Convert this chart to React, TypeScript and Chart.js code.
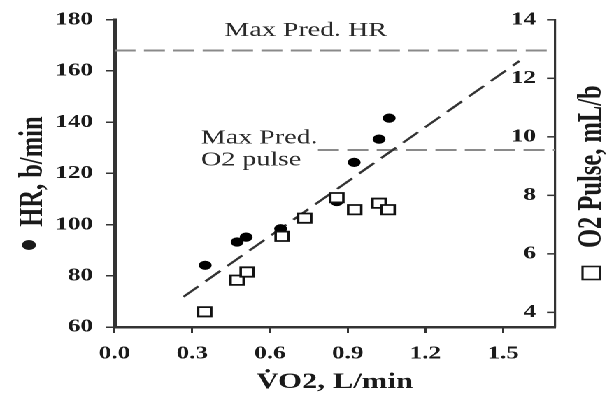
import React, { useEffect, useRef } from 'react';
import { Chart, registerables } from 'chart.js';

Chart.register(...registerables);

// ---- data ----
const VO2_HR = [0.35, 0.473, 0.508, 0.641, 0.858, 0.925, 1.021, 1.06];
const HR = [84.1, 93.2, 95.1, 98.4, 109, 124.3, 133.4, 141.6];
const VO2_PULSE = [0.348, 0.473, 0.512, 0.647, 0.734, 0.858, 0.927, 1.021, 1.056];
const O2_PULSE = [4.02, 5.1, 5.38, 6.6, 7.22, 7.92, 7.51, 7.73, 7.51];
const FIT_VO2 = [0.266, 1.563];
const FIT_HR = [71.8, 163.9];
const MAX_HR = 168;
const MAX_O2_PULSE = 9.55;
const MAX_O2_FROM = 0.785;
const X_TICKS = [0, 0.3, 0.6, 0.9, 1.2, 1.5];
const HR_TICKS = [60, 80, 100, 120, 140, 160, 180];
const PULSE_TICKS = [4, 6, 8, 10, 12, 14];
const X_TITLE = 'V\u0307O2, L/min';
const Y_TITLE = 'HR, b/min';
const Y2_TITLE = 'O2 Pulse, mL/b';
const NOTE_HR = 'Max Pred. HR';
const NOTE_O2 = ['Max Pred.', 'O2 pulse'];

// ---- layout (native, before horizontal stretch) ----
const W = 434;
const H = 393;
const SX = 607 / W;
const SERIF = "'Liberation Serif', 'Times New Roman', serif";

const annotPlugin = {
  id: 'annot',
  afterDraw(chart: any) {
    const ctx = chart.ctx as CanvasRenderingContext2D;
    const x = chart.scales.x;
    const yL = chart.scales.yL;
    const yR = chart.scales.yR;
    const area = chart.chartArea;
    ctx.save();
    // inward ticks and inside labels on right axis (positions from the yR scale)
    ctx.strokeStyle = '#333';
    ctx.lineWidth = 1.5;
    ctx.fillStyle = '#1a1a1a';
    ctx.font = `bold 18px ${SERIF}`;
    ctx.textAlign = 'right';
    ctx.textBaseline = 'middle';
    yR.ticks.forEach((t: any) => {
      const py = yR.getPixelForValue(t.value);
      ctx.beginPath();
      ctx.moveTo(area.right - 5.7, py);
      ctx.lineTo(area.right, py);
      ctx.stroke();
      ctx.fillText(String(t.value), area.right - 13.5, py);
    });
    // annotations
    ctx.fillStyle = '#2a2a2a';
    ctx.font = `20px ${SERIF}`;
    ctx.textBaseline = 'alphabetic';
    ctx.textAlign = 'center';
    ctx.fillText(NOTE_HR, x.getPixelForValue(0.738), yL.getPixelForValue(173.7));
    ctx.textAlign = 'left';
    ctx.fillText(NOTE_O2[0], x.getPixelForValue(0.334), yL.getPixelForValue(131.6));
    ctx.fillText(NOTE_O2[1], x.getPixelForValue(0.334), yL.getPixelForValue(123.1));

    // titles
    ctx.fillStyle = '#1a1a1a';
    ctx.font = `bold 22px ${SERIF}`;
    ctx.textAlign = 'center';
    ctx.fillText(X_TITLE, (area.left + area.right) / 2, 388);

    // left title
    ctx.font = `bold 24.5px ${SERIF}`;
    ctx.save();
    ctx.translate(30, 226.7);
    ctx.rotate(-Math.PI / 2);
    ctx.textAlign = 'left';
    ctx.fillText(Y_TITLE, 0, 0);
    ctx.restore();
    ctx.beginPath();
    ctx.arc(20.7, 245, 5, 0, Math.PI * 2);
    ctx.fill();

    // right title
    ctx.save();
    ctx.translate(429.5, 248);
    ctx.rotate(-Math.PI / 2);
    ctx.textAlign = 'left';
    ctx.fillText(Y2_TITLE, 0, 0);
    ctx.restore();
    ctx.strokeStyle = '#1a1a1a';
    ctx.lineWidth = 1.6;
    ctx.strokeRect(416.5, 266.5, 12.5, 13);
    ctx.restore();
  },
};

const tickFont = { family: SERIF, weight: 'bold' as const, size: 18 };

export default function App() {
  const ref = useRef<HTMLCanvasElement | null>(null);
  useEffect(() => {
    if (!ref.current) return;
    const chart = new Chart(ref.current, {
      type: 'scatter',
      data: {
        datasets: [
          {
            label: 'HR',
            data: VO2_HR.map((v, i) => ({ x: v, y: HR[i] })),
            yAxisID: 'yL',
            pointStyle: 'circle',
            pointRadius: 4.6,
            backgroundColor: '#000',
            borderColor: '#000',
            borderWidth: 0,
            order: 2,
          },
          {
            label: 'O2 pulse',
            data: VO2_PULSE.map((v, i) => ({ x: v, y: O2_PULSE[i] })),
            yAxisID: 'yR',
            pointStyle: 'rect',
            pointRadius: 6.6,
            backgroundColor: '#fff',
            borderColor: '#111',
            borderWidth: 1.8,
            order: 1,
          },
          {
            label: 'fit',
            data: FIT_VO2.map((v, i) => ({ x: v, y: FIT_HR[i] })),
            yAxisID: 'yL',
            showLine: true,
            pointRadius: 0,
            borderColor: '#333',
            borderWidth: 2,
            borderDash: [15, 7],
            order: 5,
          },
          {
            label: 'max HR',
            data: [{ x: 0, y: MAX_HR }, { x: 1.7, y: MAX_HR }],
            yAxisID: 'yL',
            showLine: true,
            pointRadius: 0,
            borderColor: '#8a8a8a',
            borderWidth: 2,
            borderDash: [15, 6],
            order: 6,
          },
          {
            label: 'max O2',
            data: [{ x: MAX_O2_FROM, y: MAX_O2_PULSE }, { x: 1.7, y: MAX_O2_PULSE }],
            yAxisID: 'yR',
            showLine: true,
            pointRadius: 0,
            borderColor: '#8a8a8a',
            borderWidth: 2,
            borderDash: [15, 6],
            order: 6,
          },
        ],
      },
      options: {
        animation: false,
        responsive: false,
        devicePixelRatio: 2,
        layout: { padding: { top: 19, left: 0, right: 0, bottom: 0 } },
        plugins: { legend: { display: false }, tooltip: { enabled: false } },
        scales: {
          x: {
            type: 'linear',
            min: 0,
            max: 1.7,
            afterBuildTicks: (s: any) => {
              s.ticks = X_TICKS.map((v) => ({ value: v }));
            },
            afterFit: (s: any) => {
              s.height = H - 327;
            },
            ticks: {
              callback: (v: any) => Number(v).toFixed(1),
              font: tickFont,
              color: '#1a1a1a',
              padding: 10,
              maxRotation: 0,
              autoSkip: false,
            },
            grid: { drawOnChartArea: false, drawTicks: true, tickLength: 6, color: '#333', lineWidth: 1.5 },
            border: { display: true, color: '#333', width: 2.5 },
          },
          yL: {
            type: 'linear',
            position: 'left',
            min: 60,
            max: 180,
            afterBuildTicks: (s: any) => {
              s.ticks = HR_TICKS.map((v) => ({ value: v }));
            },
            afterFit: (s: any) => {
              s.width = 81.9;
            },
            ticks: { font: tickFont, color: '#1a1a1a', padding: 9 },
            grid: { drawOnChartArea: false, drawTicks: true, tickLength: 6.4, color: '#333', lineWidth: 1.5 },
            border: { display: true, color: '#333', width: 3 },
          },
          yR: {
            type: 'linear',
            position: 'right',
            min: 3.5,
            max: 14,
            afterBuildTicks: (s: any) => {
              s.ticks = PULSE_TICKS.map((v) => ({ value: v }));
            },
            afterFit: (s: any) => {
              s.width = W - 396.8;
            },
            ticks: { display: false },
            grid: { drawOnChartArea: false, drawTicks: false },
            border: { display: true, color: '#333', width: 1.6 },
          },
        },
      },
      plugins: [annotPlugin],
    } as any);
    return () => chart.destroy();
  }, []);

  return (
    <div
      style={{
        position: 'fixed',
        left: 0,
        top: 0,
        width: W,
        height: H,
        background: '#fff',
        transform: `scaleX(${SX})`,
        transformOrigin: '0 0',
      }}
    >
      <canvas ref={ref} width={W} height={H} style={{ width: W, height: H, display: 'block' }} />
    </div>
  );
}
